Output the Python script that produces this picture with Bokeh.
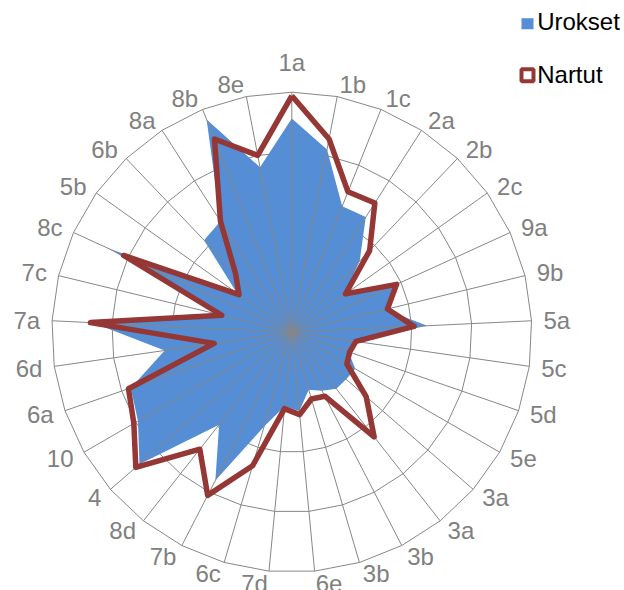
import math
from bokeh.plotting import figure
from bokeh.models import Range1d, ColumnDataSource
from bokeh.core.properties import value, field
from bokeh.embed import file_html
from bokeh.resources import INLINE

# ---------------- data ----------------
categories = ["1a", "1b", "1c", "2a", "2b", "2c", "9a", "9b", "5a", "5c", "5d",
              "5e", "3a", "3a", "3b", "3b", "6e", "7d", "6c", "7b", "8d", "4",
              "10", "6a", "6d", "7a", "7c", "8c", "5b", "6b", "8a", "8b", "8e"]
urokset = [89, 77.5, 56.5, 57, 41, 26.5, 47, 40, 56.5, 26, 25,
           30.5, 30, 30, 27.5, 25, 33, 31, 41, 69.5, 49, 84,
           74, 71, 53.5, 83, 30, 84, 28, 53, 55, 95.5, 70]
nartut = [98.5, 82, 63, 64, 47, 27.5, 48, 41, 51, 27, 25.5,
          26.5, 41, 55.5, 30, 29, 34.5, 32, 58, 76.5, 62, 86,
          76, 72, 32.7, 84, 30, 77, 27, 34, 55, 86.7, 75]
ring_levels = [25, 50, 75, 100]
series_names = ["Urokset", "Nartut"]

# ---------------- layout ----------------
W, H = 624, 590
PAGE = 0                   # Bokeh's page template has no body margin
CX, CY = 291.3, 331.7      # centre of the web on the page (px)
S = 2.4                    # px per value unit
LABEL_R = 105              # label anchor radius (value units)

def dx(px):
    return (px - CX) / S

def dy(py):
    return (CY - py) / S

n = len(categories)
theta = [2 * math.pi * i / n for i in range(n)]

def polar(vals):
    xs = [v * math.sin(t) for v, t in zip(vals, theta)]
    ys = [v * math.cos(t) for v, t in zip(vals, theta)]
    return xs, ys

p = figure(width=W, height=H,
           x_range=Range1d(dx(PAGE), dx(PAGE + W)),
           y_range=Range1d(dy(PAGE + H), dy(PAGE)),
           output_backend="svg", toolbar_location=None,
           x_axis_type=None, y_axis_type=None,
           min_border=0, outline_line_color=None,
           background_fill_color="white", border_fill_color="white")

grid_col = "#878787"

# rings
rxs, rys = [], []
for lv in ring_levels:
    xs, ys = polar([lv] * n)
    rxs.append(xs + [xs[0]])
    rys.append(ys + [ys[0]])
p.multi_line(rxs, rys, line_color=grid_col, line_width=1)

# blue filled series
bx, by = polar(urokset)
p.patch(bx, by, fill_color="#558ED5", line_color=None)

# spokes
sx, sy = polar([ring_levels[-1]] * n)
p.segment(x0=[0] * n, y0=[0] * n, x1=sx, y1=sy, line_color=grid_col, line_width=1)

# red line series
rx, ry = polar(nartut)
p.line(rx + [rx[0]], ry + [ry[0]], line_color="#953735", line_width=5.5,
       line_join="round")

# category labels
lab_r = []
aligns, bases = [], []
for t in theta:
    s = math.sin(t)
    if abs(s) < 1e-6:
        aligns.append("center"); bases.append("bottom"); lab_r.append(LABEL_R + 1.7)
    elif s > 0:
        aligns.append("left"); bases.append("middle"); lab_r.append(LABEL_R)
    else:
        aligns.append("right"); bases.append("middle"); lab_r.append(LABEL_R)
lx, ly = polar(lab_r)
lab_src = ColumnDataSource(dict(x=lx, y=ly, t=categories, align=aligns, base=bases))
p.text(x="x", y="y", text="t", source=lab_src,
       text_font=value("Liberation Sans"), text_font_size="24px",
       text_color="#808080", text_align=field("align"), text_baseline=field("base"))

# legend (manual)
LEG_X = 527     # marker centre x on page
p.rect(x=[dx(LEG_X)], y=[dy(23.3)], width=12, height=11,
       width_units="screen", height_units="screen",
       fill_color="#558ED5", line_color=None)
p.scatter(x=[dx(LEG_X)], y=[dy(74.7)], marker="square", size=12,
          fill_color="white", line_color="#953735", line_width=4)
p.text(x=[dx(LEG_X + 9.7)] * 2, y=[dy(20.5), dy(73.5)], text=series_names,
       text_font=value("Liberation Sans"), text_font_size="24px",
       text_color="#000000", text_align="left", text_baseline="middle")

open("out.html", "w").write(file_html(p, INLINE))
